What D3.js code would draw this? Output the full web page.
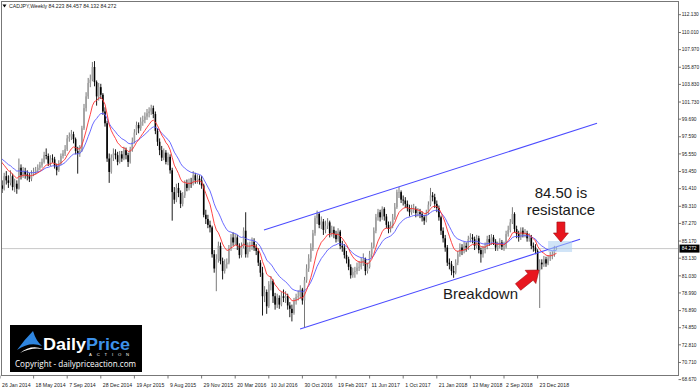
<!DOCTYPE html>
<html lang="en">
<head>
<meta charset="utf-8">
<title>CADJPY Weekly</title>
<script src="https://cdn.jsdelivr.net/npm/d3@7"></script>
<style>
  body { margin: 0; background: #fff; }
  svg { display: block; }
  .mt { font-family: "Liberation Sans", Arial, sans-serif; font-size: 5.2px; fill: #222; }
  .px { font-size: 4.8px; }
  .note { font-family: "Liberation Sans", Arial, sans-serif; font-size: 15px; fill: #1a1a1a; }
</style>
</head>
<body>
<script>
var w = 700, h = 392;

// weekly closes before the first visible bar (only used to warm up the EMAs)
var warmupCloses = [94.3, 95.0, 95.8, 96.3, 96.5, 97.3, 97.8, 98.5, 98.0, 96.6, 95.4, 93.4];

// weekly bars from 26 Jan 2014, open = previous close
var closes = [
  91.8, 91.4, 92.9, 92.4, 92.1, 92.9, 91.6, 92.0, 91.4, 93.9,
  93.0, 93.5, 93.1, 92.9, 92.6, 93.2, 93.4, 93.6, 93.9, 94.2,
  94.6, 95.4, 95.3, 94.4, 95.0, 94.9, 94.1, 93.6, 94.4, 95.3,
  95.6, 96.1, 97.4, 97.6, 97.9, 97.3, 95.9, 95.6, 96.0, 98.6,
  101.0, 102.4, 104.0, 104.4, 105.9, 104.1, 102.4, 103.5, 102.6, 100.6,
  99.2, 95.0, 93.4, 95.1, 95.6, 95.4, 94.6, 95.5, 95.0, 96.0,
  95.4, 94.6, 96.1, 97.0, 98.1, 99.0, 98.6, 99.4, 99.6, 100.0,
  100.4, 100.6, 101.0, 100.3, 98.3, 97.0, 96.0, 95.1, 95.7, 94.6,
  95.2, 93.6, 91.0, 90.1, 91.5, 90.9, 89.6, 90.6, 92.0, 91.5,
  92.1, 92.0, 93.0, 92.4, 92.6, 92.4, 91.8, 88.3, 87.8, 87.1,
  86.8, 83.6, 81.9, 83.0, 84.6, 82.8, 81.6, 82.4, 82.6, 84.3,
  85.6, 85.0, 85.6, 84.6, 83.5, 84.6, 86.4, 83.6, 84.4, 84.5,
  85.1, 84.4, 84.0, 82.6, 81.4, 78.6, 79.1, 77.4, 80.0, 80.4,
  78.6, 77.6, 78.4, 77.6, 78.6, 78.4, 78.6, 77.5, 77.1, 76.6,
  78.0, 78.5, 78.6, 79.4, 78.1, 80.5, 81.9, 83.1, 84.4, 86.1,
  87.9, 88.4, 87.1, 87.5, 86.5, 87.0, 87.4, 86.1, 86.5, 86.0,
  85.4, 86.3, 84.6, 84.4, 83.5, 83.0, 82.1, 81.1, 81.5, 81.6,
  82.0, 82.1, 82.5, 83.0, 81.6, 82.1, 83.6, 84.5, 86.4, 88.0,
  88.6, 88.0, 89.0, 88.1, 87.1, 86.6, 87.0, 88.0, 89.2, 91.0,
  91.0, 90.1, 90.0, 89.6, 89.1, 88.6, 89.0, 89.0, 88.5, 88.6,
  88.4, 88.0, 87.6, 88.5, 89.5, 90.6, 90.4, 89.6, 89.1, 88.0,
  86.4, 85.5, 84.4, 82.6, 82.4, 81.6, 81.4, 82.6, 83.6, 84.4,
  84.0, 84.6, 84.4, 85.4, 85.6, 85.4, 84.6, 85.5, 84.1, 83.6,
  84.1, 84.5, 85.4, 85.0, 85.6, 85.1, 84.4, 84.6, 85.0, 84.5,
  84.5, 86.0, 86.5, 87.4, 88.4, 86.6, 86.0, 85.6, 86.4, 86.0,
  86.1, 85.5, 85.6, 84.6, 84.4, 84.0, 81.7, 82.6, 82.4, 83.0,
  82.5, 83.1, 83.4, 83.6, 84.2, 84.272
];
var highs = [
  93.9, 92.4, 93.3, 93.5, 93.0, 93.6, 93.2, 92.6, 92.4, 95.0,
  94.3, 94.0, 93.9, 93.6, 93.3, 93.6, 93.9, 94.0, 94.3, 94.6,
  95.0, 95.8, 96.2, 95.6, 95.4, 95.5, 95.2, 94.4, 94.8, 95.6,
  96.0, 96.6, 97.8, 98.1, 98.4, 98.2, 97.5, 96.4, 96.6, 98.9,
  101.5, 102.9, 104.6, 105.0, 106.5, 106.6, 104.3, 104.0, 103.9, 102.8,
  101.1, 99.5, 95.6, 95.5, 96.2, 96.1, 95.8, 95.9, 95.9, 96.4,
  96.3, 95.7, 96.4, 97.5, 98.5, 99.4, 99.3, 99.9, 100.1, 100.5,
  100.9, 101.1, 101.4, 101.3, 100.6, 98.6, 97.4, 96.5, 96.2, 96.0,
  95.7, 95.5, 93.9, 91.6, 92.0, 92.1, 91.2, 91.0, 92.4, 92.5,
  92.6, 92.7, 93.5, 93.3, 93.1, 93.0, 92.9, 92.0, 88.9, 88.3,
  87.6, 87.0, 84.1, 83.6, 85.1, 85.0, 83.2, 83.0, 83.1, 84.7,
  86.0, 86.2, 86.0, 85.9, 84.9, 85.0, 86.8, 88.6, 85.0, 85.1,
  85.6, 85.5, 84.8, 84.3, 82.9, 82.1, 79.8, 79.4, 80.4, 81.0,
  80.6, 79.0, 78.9, 78.7, 79.1, 79.4, 79.2, 78.9, 77.9, 77.6,
  78.4, 78.9, 79.3, 79.9, 79.6, 80.9, 82.4, 83.6, 84.9, 86.5,
  88.2, 88.8, 88.6, 88.1, 87.8, 87.6, 87.9, 87.6, 87.0, 86.9,
  86.4, 86.7, 86.5, 85.2, 84.8, 84.0, 83.3, 82.4, 82.0, 82.1,
  82.6, 82.8, 83.2, 83.7, 83.2, 82.6, 84.0, 85.0, 86.8, 88.4,
  89.0, 88.9, 89.3, 89.2, 88.4, 87.5, 87.5, 88.4, 89.7, 91.3,
  91.6, 91.2, 90.6, 90.4, 90.0, 89.5, 89.5, 89.6, 89.3, 89.1,
  89.0, 88.7, 88.3, 88.9, 89.9, 91.5, 91.0, 90.8, 90.0, 89.4,
  88.2, 86.8, 85.9, 84.7, 83.1, 82.8, 82.2, 83.0, 84.0, 84.9,
  84.8, 85.1, 85.0, 85.8, 86.1, 86.0, 85.7, 85.9, 85.8, 84.4,
  84.6, 85.0, 85.8, 85.9, 86.0, 85.9, 85.4, 85.1, 85.5, 85.3,
  85.1, 86.4, 87.0, 87.8, 89.2, 88.6, 87.0, 86.4, 86.8, 86.8,
  86.6, 86.4, 86.1, 85.9, 85.0, 84.8, 84.2, 83.0, 83.0, 83.4,
  83.3, 83.5, 83.9, 84.0, 84.6, 84.457
];
var lows = [
  91.2, 90.9, 91.2, 91.9, 91.5, 91.8, 91.2, 91.0, 90.8, 91.3,
  92.5, 92.7, 92.6, 92.4, 92.2, 92.3, 92.9, 93.1, 93.3, 93.6,
  93.9, 94.4, 94.9, 94.1, 94.1, 94.5, 93.8, 93.0, 93.4, 94.2,
  95.0, 95.3, 95.9, 97.0, 97.2, 96.8, 95.5, 93.2, 95.2, 95.8,
  98.4, 100.6, 102.1, 103.5, 104.2, 103.6, 101.3, 101.9, 102.1, 100.2,
  98.8, 94.6, 92.1, 93.2, 94.7, 94.9, 94.2, 94.4, 94.6, 94.8,
  94.9, 94.0, 94.4, 95.8, 96.8, 97.8, 98.0, 98.3, 98.9, 99.2,
  99.6, 99.9, 100.2, 99.8, 97.9, 96.5, 95.4, 94.7, 94.8, 94.3,
  94.2, 93.2, 87.6, 89.6, 89.8, 90.4, 89.1, 89.3, 90.3, 91.1,
  91.2, 91.5, 91.8, 92.0, 92.0, 91.9, 91.4, 88.0, 87.2, 86.7,
  86.2, 83.2, 81.4, 79.2, 82.6, 82.4, 80.6, 81.3, 81.9, 82.4,
  84.0, 84.6, 84.7, 84.1, 83.1, 83.2, 84.3, 83.2, 83.2, 83.9,
  84.1, 84.0, 83.5, 82.2, 80.9, 76.3, 77.9, 76.5, 77.2, 79.3,
  77.8, 77.0, 77.2, 77.1, 77.4, 77.9, 77.8, 77.0, 76.1, 75.6,
  76.4, 77.6, 78.1, 78.3, 77.6, 74.9, 80.2, 81.5, 82.7, 84.0,
  85.8, 87.2, 86.7, 86.6, 85.9, 86.1, 86.6, 85.6, 85.7, 85.5,
  85.0, 85.1, 84.2, 83.9, 83.1, 82.5, 81.7, 80.7, 80.8, 80.8,
  81.2, 81.6, 81.8, 82.2, 81.1, 81.3, 81.9, 83.2, 84.3, 86.1,
  87.6, 87.5, 87.7, 87.6, 86.7, 86.1, 86.2, 86.7, 87.7, 89.0,
  90.3, 89.7, 89.4, 89.1, 88.7, 88.1, 88.3, 88.5, 88.0, 88.1,
  87.9, 87.5, 87.1, 87.4, 88.3, 89.3, 89.9, 89.1, 88.6, 87.6,
  85.9, 85.0, 83.9, 82.2, 81.8, 81.1, 80.8, 81.2, 82.3, 83.3,
  83.5, 83.7, 83.9, 84.1, 85.0, 84.9, 84.1, 84.3, 83.7, 82.6,
  83.2, 83.7, 84.2, 84.6, 84.7, 84.7, 84.0, 84.0, 84.3, 84.1,
  84.0, 84.3, 85.7, 86.2, 87.2, 86.2, 85.5, 85.1, 85.3, 85.6,
  85.6, 85.1, 85.1, 84.2, 83.9, 83.6, 81.3, 77.2, 81.8, 82.1,
  82.1, 82.3, 82.8, 83.0, 83.3, 84.132
];

var dateLabels = ["26 Jan 2014", "18 May 2014", "7 Sep 2014", "28 Dec 2014", "19 Apr 2015",
  "9 Aug 2015", "29 Nov 2015", "20 Mar 2016", "10 Jul 2016", "30 Oct 2016", "19 Feb 2017",
  "11 Jun 2017", "1 Oct 2017", "21 Jan 2018", "13 May 2018", "2 Sep 2018", "23 Dec 2018"];
var dateStep = 16; // weeks between date labels
var priceTicks = [112.130, 110.010, 107.970, 105.870, 103.830, 101.730, 99.690, 97.590, 95.550,
  93.450, 91.410, 89.310, 87.270, 85.170, 83.130, 81.030, 78.990, 76.890, 74.850, 72.810,
  70.710, 68.670];
var lastPrice = 84.272;
var header = "CADJPY,Weekly  84.223 84.457 84.132 84.272";

// annotations, in [bar index, price]
var channelLower = [[142.9, 74.70], [276.2, 85.38]];
var channelUpper = [[125.7, 86.49], [284.3, 99.19]];
var resistanceBox = [[261, 85.18], [272.4, 83.87]];
var downArrow = [[267.1, 87.44], [267.1, 85.06]];
var breakArrow = [[246.7, 79.70], [256.7, 81.72]];
var notes = [["84.50 is", 267.1, 90.24], ["resistance", 267.1, 88.24], ["Breakdown", 228.8, 78.23]];

var plotR = 678.5, plotB = 375.5;

var svg = d3.select("body").append("svg").attr("width", w).attr("height", h);

var x = d3.scaleLinear().domain([0, 256]).range([0, 537.6]);
var y = d3.scaleLinear().domain([68.67, 112.13]).range([379.6, 14.7]);

svg.append("defs").append("clipPath").attr("id", "plot")
  .append("rect").attr("x", 1.5).attr("y", 1.5).attr("width", plotR - 1.5).attr("height", plotB - 1.5);

var plot = svg.append("g").attr("clip-path", "url(#plot)");

// current price line
plot.append("line")
  .attr("x1", 0).attr("x2", plotR).attr("y1", y(lastPrice)).attr("y2", y(lastPrice))
  .attr("stroke", "#c8c8c8").attr("stroke-width", 1);

// candles
var bars = closes.map(function(c, i) {
  var o = i === 0 ? warmupCloses[warmupCloses.length - 1] : closes[i - 1];
  return {i: i, o: o, h: highs[i], l: lows[i], c: c, up: c >= o};
});

var candle = plot.append("g").selectAll("g").data(bars).enter().append("g");
candle.append("line")
  .attr("x1", d => x(d.i)).attr("x2", d => x(d.i))
  .attr("y1", d => y(d.h)).attr("y2", d => y(d.l))
  .attr("stroke", d => d.up ? "#6a6a6a" : "#000").attr("stroke-width", 0.9);
candle.append("rect")
  .attr("x", d => x(d.i) - 0.8).attr("width", 1.6)
  .attr("y", d => y(Math.max(d.o, d.c)))
  .attr("height", d => Math.max(0.6, Math.abs(y(d.o) - y(d.c))))
  .attr("fill", d => d.up ? "#a0a0a0" : "#000");

// 10 and 20 EMA
function ema(values, n) {
  var k = 2 / (n + 1), prev = values[0];
  return values.map(function(v, j) {
    prev = j === 0 ? v : prev + k * (v - prev);
    return [j - warmupCloses.length, prev];
  });
}
var allCloses = warmupCloses.concat(closes);
var line = d3.line().x(d => x(d[0])).y(d => y(d[1]));

plot.append("path").datum(ema(allCloses, 20))
  .attr("d", line).attr("fill", "none").attr("stroke", "#5a5aff").attr("stroke-width", 0.9);
plot.append("path").datum(ema(allCloses, 10))
  .attr("d", line).attr("fill", "none").attr("stroke", "#ff3030").attr("stroke-width", 0.9);

// channel
[channelLower, channelUpper].forEach(function(c) {
  plot.append("path").datum(c).attr("d", line)
    .attr("fill", "none").attr("stroke", "#4b4bff").attr("stroke-width", 1.1);
});

// resistance zone
plot.append("rect")
  .attr("x", x(resistanceBox[0][0])).attr("y", y(resistanceBox[0][1]))
  .attr("width", x(resistanceBox[1][0]) - x(resistanceBox[0][0]))
  .attr("height", y(resistanceBox[1][1]) - y(resistanceBox[0][1]))
  .attr("fill", "#a9cdf0").attr("opacity", 0.55);

// arrows
function arrow(pts, sw, hw, hl) {
  var x1 = x(pts[0][0]), y1 = y(pts[0][1]), x2 = x(pts[1][0]), y2 = y(pts[1][1]);
  var len = Math.hypot(x2 - x1, y2 - y1), ux = (x2 - x1) / len, uy = (y2 - y1) / len;
  var nx = -uy, ny = ux, bx = x2 - ux * hl, by = y2 - uy * hl;
  var p = [
    [x1 + nx * sw, y1 + ny * sw], [bx + nx * sw, by + ny * sw], [bx + nx * hw, by + ny * hw],
    [x2, y2],
    [bx - nx * hw, by - ny * hw], [bx - nx * sw, by - ny * sw], [x1 - nx * sw, y1 - ny * sw]
  ];
  svg.append("path").attr("d", "M" + p.join("L") + "Z")
    .attr("fill", "#e8161e").attr("stroke", "#9e0b10").attr("stroke-width", 0.6);
}
arrow(downArrow, 4, 7.5, 9);
arrow(breakArrow, 4.2, 8.5, 11);

// notes
svg.selectAll("text.note").data(notes).enter().append("text")
  .attr("class", "note").attr("text-anchor", "middle")
  .attr("x", d => x(d[1])).attr("y", d => y(d[2])).text(d => d[0]);

// frame
svg.append("rect").attr("x", 1.5).attr("y", 1.5).attr("width", plotR - 1.5).attr("height", plotB - 1.5)
  .attr("fill", "none").attr("stroke", "#777").attr("stroke-width", 1);

// header
svg.append("path").attr("d", "M2.5,4.5L6.5,4.5L4.5,7.5Z").attr("fill", "#000");
svg.append("text").attr("class", "mt").attr("x", 9).attr("y", 7.8).text(header);

// price axis
var pt = svg.append("g");
pt.selectAll("line").data(priceTicks).enter().append("line")
  .attr("x1", plotR).attr("x2", plotR + 2.5).attr("y1", d => y(d)).attr("y2", d => y(d))
  .attr("stroke", "#555").attr("stroke-width", 0.8);
pt.selectAll("text").data(priceTicks).enter().append("text")
  .attr("class", "mt px").attr("x", plotR + 3.3).attr("y", d => y(d) + 1.7)
  .text(d => d.toFixed(3));

svg.append("rect").attr("x", plotR + 1).attr("y", y(lastPrice) - 4).attr("width", 20).attr("height", 8)
  .attr("fill", "#000");
svg.append("text").attr("class", "mt px").attr("x", plotR + 3.3).attr("y", y(lastPrice) + 1.7)
  .style("fill", "#fff").text(lastPrice.toFixed(3));

// date axis
var dt = svg.append("g");
dt.selectAll("line").data(dateLabels).enter().append("line")
  .attr("x1", (d, k) => x(k * dateStep)).attr("x2", (d, k) => x(k * dateStep))
  .attr("y1", plotB).attr("y2", plotB + 3)
  .attr("stroke", "#555").attr("stroke-width", 0.8);
dt.selectAll("text").data(dateLabels).enter().append("text")
  .attr("class", "mt").attr("x", (d, k) => x(k * dateStep) + 2).attr("y", 386.5)
  .text(d => d);

// logo
var logo = svg.append("g");
logo.append("rect").attr("x", 10).attr("y", 325).attr("width", 132).attr("height", 47).attr("fill", "#000");
logo.append("path").attr("d", "M17,350 Q25,339 33,331 Q36,341 42,346 Q30,341 17,350 Z").attr("fill", "#2f86e0");
logo.append("path").attr("d", "M20,353 Q31,344 43,349 Q31,347 20,353 Z").attr("fill", "#fff");
var brand = logo.append("text").attr("x", 43).attr("y", 349.5)
  .attr("textLength", 87).attr("lengthAdjust", "spacingAndGlyphs")
  .style("font-family", "'Liberation Sans', Arial, sans-serif").style("font-weight", "bold").style("font-size", "16.5px");
brand.append("tspan").attr("fill", "#fff").text("Daily");
brand.append("tspan").attr("fill", "#3d92ea").text("Price");
logo.append("text").attr("x", 89).attr("y", 355.5).attr("textLength", 40)
  .style("font-family", "'Liberation Sans', Arial, sans-serif").style("font-size", "4.2px").style("fill", "#fff")
  .text("ACTION");
logo.append("text").attr("x", 15).attr("y", 367).attr("textLength", 121).attr("lengthAdjust", "spacingAndGlyphs")
  .style("font-family", "'Open Sans', sans-serif").style("font-size", "8.5px").style("fill", "#fff")
  .text("Copyright - dailypriceaction.com");
</script>
</body>
</html>
